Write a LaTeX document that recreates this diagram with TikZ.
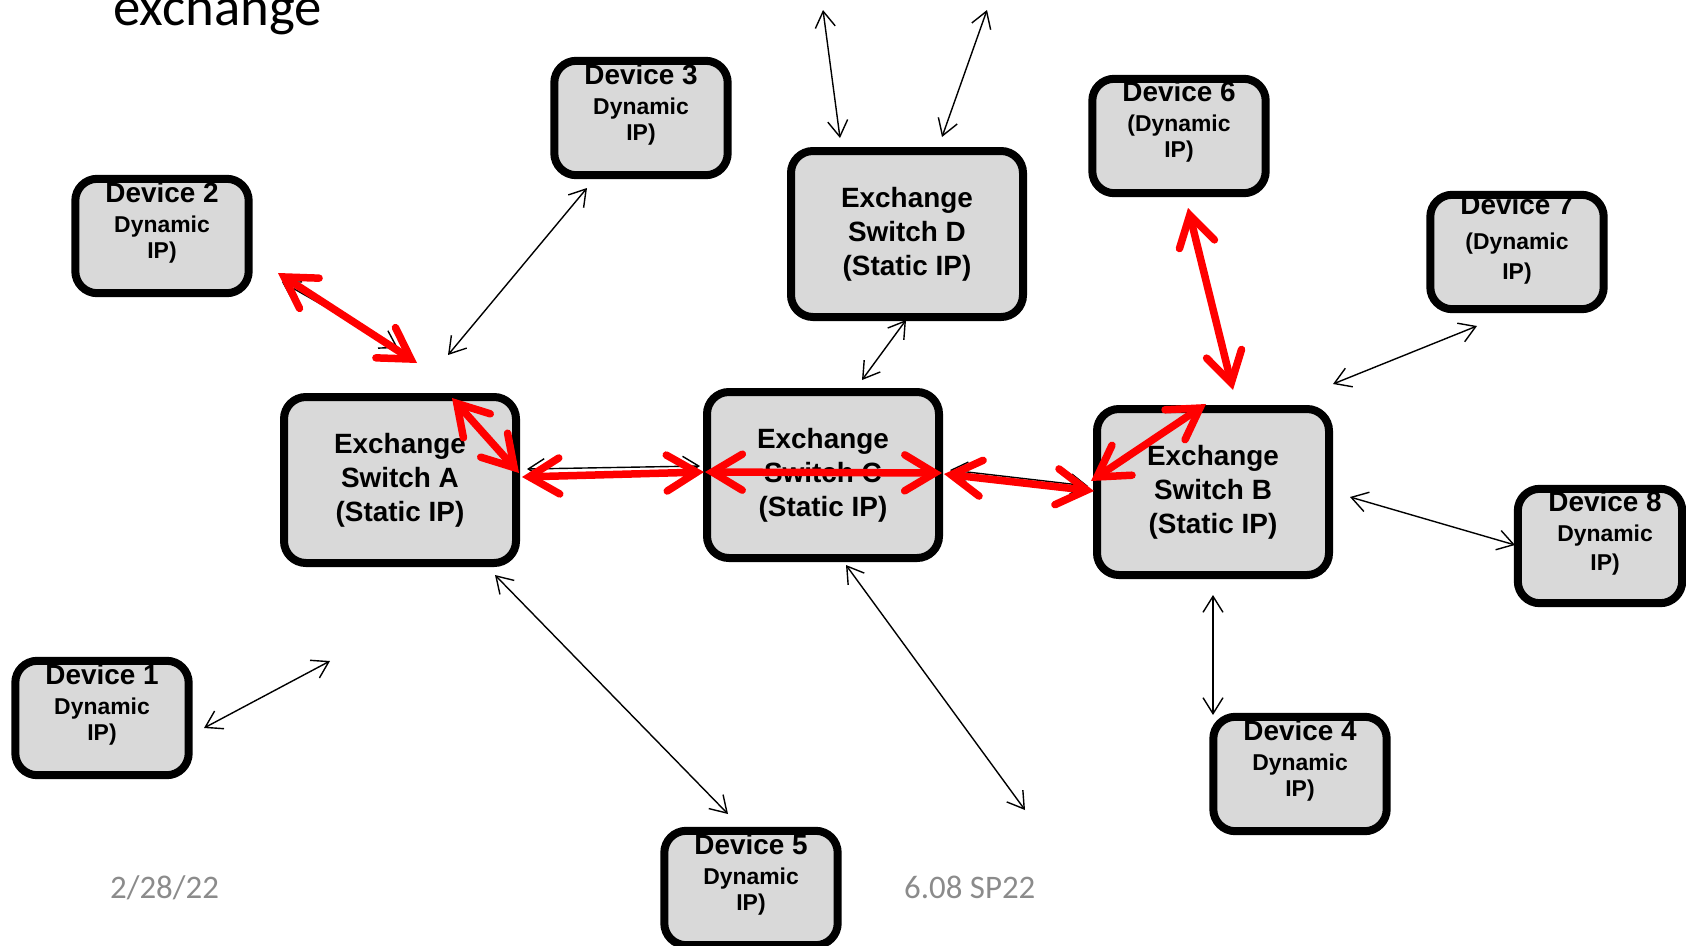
\documentclass[tikz,border=0pt]{standalone}
\usepackage{fontspec}
\setmainfont{Liberation Sans}
\newfontfamily\carlito{Carlito}
\usetikzlibrary{arrows.meta,calc}

\definecolor{boxgray}{HTML}{D9D9D9}
\definecolor{footgray}{HTML}{8B8B8B}
\definecolor{linkred}{HTML}{FF0000}

\begin{document}
\begin{tikzpicture}[x=1bp,y=-1bp,
  boxfill/.style={rectangle, rounded corners=22bp, fill=boxgray, inner sep=0pt},
  devbox/.style={boxfill, minimum width=173bp, minimum height=114bp},
  swbox/.style={boxfill, draw=black, line width=8bp, minimum width=232bp, minimum height=166bp,
    font=\bfseries\fontsize{28}{34}\selectfont, align=center},
  devborder/.style={draw=black, line width=8bp, rounded corners=22bp},
  devtext/.style={font=\bfseries\fontsize{23}{26}\selectfont, align=center, inner sep=0pt, anchor=north},
  thinlink/.style={draw=black, line width=1.4bp,
    {Straight Barb[length=16bp,width=20bp]}-{Straight Barb[length=16bp,width=20bp]}},
  redlink/.style={draw=linkred, line width=7.5bp, line cap=round,
    {Straight Barb[length=30bp,width=36bp,line cap=round,line join=miter]}-{Straight Barb[length=30bp,width=36bp,line cap=round,line join=miter]}},
  foot/.style={font=\carlito\fontsize{33}{36}\selectfont, text=footgray, inner sep=0pt, anchor=base west}
]
\clip (0,0) rectangle (1686,945);

% title line (runs off the top edge)
\node[font=\carlito\fontsize{55}{60}\selectfont, inner sep=0pt, anchor=base west] (title) at (113,25) {exchange};

% exchange switches
\node[swbox] (A) at (400,480) {Exchange\\Switch A\\(Static IP)};
\node[swbox] (C) at (823,475) {Exchange\\Switch C\\(Static IP)};
\node[swbox] (B) at (1213,492) {Exchange\\Switch B\\(Static IP)};
\node[swbox] (D) at (907,234) {Exchange\\Switch D\\(Static IP)};

% device boxes (fill only; borders go on top of the text)
\node[devbox] (d1) at (102,718) {};
\node[devbox] (d2) at (162,236) {};
\node[devbox] (d3) at (641,118) {};
\node[devbox] (d4) at (1300,774) {};
\node[devbox] (d5) at (751,888) {};
\node[devbox] (d6) at (1179,136) {};
\node[devbox] (d7) at (1517,252) {};
\node[devbox, minimum width=164bp] (d8) at (1600,546) {};

% device labels
\node[devtext] (d1t) at ($(d1.north)+(0,3)$) {{\fontsize{28}{28}\selectfont Device 1}\\[4bp]Dynamic\\IP)};
\node[devtext] (d2t) at ($(d2.north)+(0,3)$) {{\fontsize{28}{28}\selectfont Device 2}\\[4bp]Dynamic\\IP)};
\node[devtext] (d3t) at ($(d3.north)+(0,3)$) {{\fontsize{28}{28}\selectfont Device 3}\\[4bp]Dynamic\\IP)};
\node[devtext] (d4t) at ($(d4.north)+(0,3)$) {{\fontsize{28}{28}\selectfont Device 4}\\[4bp]Dynamic\\IP)};
\node[devtext] (d5t) at ($(d5.north)+(0,3)$) {{\fontsize{28}{28}\selectfont Device 5}\\[4bp]Dynamic\\IP)};
\node[devtext] (d6t) at ($(d6.north)+(0,2)$) {{\fontsize{28}{28}\selectfont Device 6}\\[4bp](Dynamic\\IP)};
\node[devtext] (d7t) at ($(d7.north)+(0,-1)$) {{\fontsize{28}{28}\selectfont Device 7}\\[9bp](Dynamic\\[4bp]IP)};
\node[devtext] (d8t) at ($(d8.north)+(5,2)$) {{\fontsize{28}{28}\selectfont Device 8}\\[4bp]Dynamic\\[3bp]IP)};

% device borders
\foreach \n in {d1,d2,d3,d4,d5,d6,d7,d8}
  \draw[devborder] (\n.north west) rectangle (\n.south east);

% end points of the thin links
\coordinate (b1a) at (204,728);  \coordinate (b1b) at (330,661);
\coordinate (b2a) at (448,355);  \coordinate (b2b) at (587,188);
\coordinate (b3a) at (840,138);  \coordinate (b3b) at (823,10);
\coordinate (b4a) at (942,137);  \coordinate (b4b) at (987,10);
\coordinate (b5a) at (906,320);  \coordinate (b5b) at (862,380);
\coordinate (b6a) at (1477,326); \coordinate (b6b) at (1333,384);
\coordinate (b7a) at (1350,497); \coordinate (b7b) at (1515,545);
\coordinate (b8a) at (1213,595); \coordinate (b8b) at (1213,715);
\coordinate (b9a) at (846,565);  \coordinate (b9b) at (1025,810);
\coordinate (b10a) at (495,575); \coordinate (b10b) at (728,814);
\coordinate (u1a) at (282,282);  \coordinate (u1b) at (398,348);
\coordinate (u2a) at (527,469);  \coordinate (u2b) at (700,466);
\coordinate (u3a) at (950,470);  \coordinate (u3b) at (1088,486);

% thin links
\foreach \p in {b1,b2,b3,b4,b5,b6,b7,b8,b9,b10,u1,u2,u3}
  \draw[thinlink] (\p a) -- (\p b);

% end points of the heavy links
\coordinate (r1a) at (278,273);  \coordinate (r1b) at (417,363);
\coordinate (r2a) at (452,398);  \coordinate (r2b) at (519,473);
\coordinate (r3a) at (522,477);  \coordinate (r3b) at (704,472);
\coordinate (r4a) at (705,472);  \coordinate (r4b) at (942,473);
\coordinate (r5a) at (944,474);  \coordinate (r5b) at (1094,491);
\coordinate (r6a) at (1091,481); \coordinate (r6b) at (1206,404);
\coordinate (r7a) at (1188,208); \coordinate (r7b) at (1233,390);

% heavy links
\foreach \p in {r1,r2,r3,r4,r5,r6,r7}
  \draw[redlink] (\p a) -- (\p b);

% footer
\node[foot] (date) at (110,898) {2/28/22};
\node[foot] (course) at (904,898) {6.08 SP22};
\end{tikzpicture}
\end{document}
